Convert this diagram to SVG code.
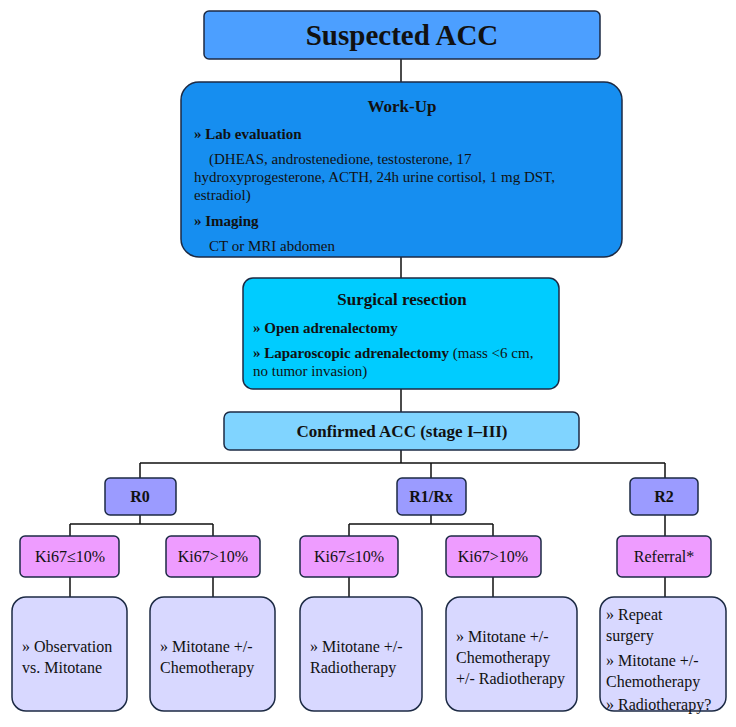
<svg xmlns="http://www.w3.org/2000/svg" width="736" height="727" viewBox="0 0 736 727">
<style>
text{font-family:"Liberation Serif","DejaVu Serif",serif;fill:#111}
.b{stroke:#1c2a44;stroke-width:1.5}
.c{stroke:#111;stroke-width:1.5;fill:none}
.t{font-size:15px;font-weight:bold}
.n{font-size:15px}
.m{font-size:16px;text-anchor:middle}
.s{font-size:16px}
</style>
<rect width="736" height="727" fill="#fff"/>
<g id="connectors" class="c">
<path d="M401 59V82M401 257V278M401 389V412M401 450V463M140 463H665M140 463V478M431 463V478M665 463V478"/>
<path d="M140 515V524M70 524H213M70 524V536M213 524V536M70 577V597M213 577V597"/>
<path d="M431 515V524M349 524H493M349 524V536M493 524V536M349 577V597M493 577V597"/>
<path d="M665 515V536M665 577V597"/>
</g>
<g id="suspected"><rect class="b" x="204" y="11" width="396" height="48" rx="5" fill="#4c9fff"/><text x="402" y="45" text-anchor="middle" font-size="29" font-weight="bold">Suspected ACC</text></g>
<g id="workup"><rect class="b" x="181" y="82" width="441" height="175" rx="18" fill="#168ef0"/>
<text x="402" y="112" text-anchor="middle" font-size="17" font-weight="bold">Work-Up</text>
<text x="194" y="139" class="t">» Lab evaluation</text>
<text x="209" y="164" class="n">(DHEAS, androstenedione, testosterone, 17</text>
<text x="194" y="182" class="n">hydroxyprogesterone,  ACTH, 24h urine cortisol, 1 mg DST,</text>
<text x="194" y="200" class="n">estradiol)</text>
<text x="194" y="226" class="t">» Imaging</text>
<text x="209" y="251" class="n">CT or MRI abdomen</text></g>
<g id="surgical"><rect class="b" x="243" y="278" width="316" height="111" rx="10" fill="#00ccff"/>
<text x="402" y="305" text-anchor="middle" font-size="17" font-weight="bold">Surgical resection</text>
<text x="253" y="333" class="t">» Open adrenalectomy</text>
<text x="253" y="358" class="n"><tspan font-weight="bold">» Laparoscopic adrenalectomy</tspan> (mass &lt;6 cm,</text>
<text x="253" y="376" class="n">no tumor invasion)</text></g>
<g id="confirmed"><rect class="b" x="224" y="412" width="355" height="38" rx="6" fill="#80d4ff"/><text x="402" y="437" text-anchor="middle" font-size="17" font-weight="bold">Confirmed ACC (stage I–III)</text></g>
<g id="r0"><rect class="b" x="105" y="478" width="71" height="37" rx="5" fill="#9b9bff"/><text x="140" y="502" class="m" font-weight="bold">R0</text></g>
<g id="r1"><rect class="b" x="397" y="478" width="69" height="37" rx="5" fill="#9b9bff"/><text x="431" y="502" class="m" font-weight="bold">R1/Rx</text></g>
<g id="r2"><rect class="b" x="630" y="478" width="68" height="37" rx="5" fill="#9b9bff"/><text x="664" y="502" class="m" font-weight="bold">R2</text></g>
<g id="k1"><rect class="b" x="20" y="536" width="99" height="41" rx="5" fill="#ee9cff"/><text x="70" y="562" class="m">Ki67≤10%</text></g>
<g id="k2"><rect class="b" x="166" y="536" width="94" height="41" rx="5" fill="#ee9cff"/><text x="213" y="562" class="m">Ki67&gt;10%</text></g>
<g id="k3"><rect class="b" x="300" y="536" width="98" height="41" rx="5" fill="#ee9cff"/><text x="349" y="562" class="m">Ki67≤10%</text></g>
<g id="k4"><rect class="b" x="446" y="536" width="95" height="41" rx="5" fill="#ee9cff"/><text x="493" y="562" class="m">Ki67&gt;10%</text></g>
<g id="k5"><rect class="b" x="617" y="536" width="94" height="41" rx="5" fill="#ee9cff"/><text x="664" y="562" class="m">Referral*</text></g>
<g id="o1"><rect class="b" x="12" y="597" width="115" height="114" rx="14" fill="#d8d8ff"/><text x="22" y="652" class="s">» Observation</text><text x="22" y="673" class="s">vs. Mitotane</text></g>
<g id="o2"><rect class="b" x="150" y="597" width="125" height="114" rx="14" fill="#d8d8ff"/><text x="160" y="652" class="s">» Mitotane +/-</text><text x="160" y="673" class="s">Chemotherapy</text></g>
<g id="o3"><rect class="b" x="300" y="597" width="122" height="114" rx="14" fill="#d8d8ff"/><text x="310" y="652" class="s">» Mitotane +/-</text><text x="310" y="673" class="s">Radiotherapy</text></g>
<g id="o4"><rect class="b" x="446" y="597" width="131" height="114" rx="14" fill="#d8d8ff"/><text x="456" y="642" class="s">» Mitotane +/-</text><text x="456" y="663" class="s">Chemotherapy</text><text x="456" y="684" class="s">+/- Radiotherapy</text></g>
<g id="o5"><rect class="b" x="600" y="597" width="126" height="114" rx="14" fill="#d8d8ff"/><text x="606" y="620" class="s">» Repeat</text><text x="606" y="641" class="s">surgery</text><text x="606" y="666" class="s">» Mitotane +/-</text><text x="606" y="687" class="s">Chemotherapy</text><text x="606" y="710" class="s" font-size="15">» Radiotherapy?</text></g>
</svg>
